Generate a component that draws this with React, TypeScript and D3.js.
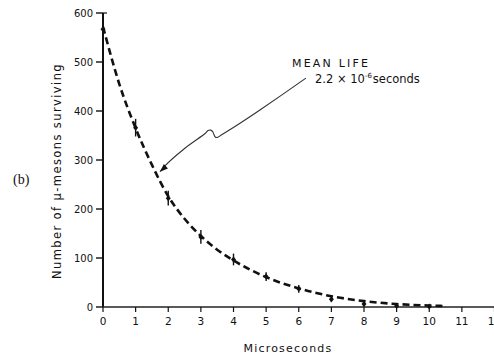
import React from "react";
import * as d3 from "d3";

const times = [0, 1, 2, 3, 4, 5, 6, 7, 8, 9, 10];
const counts = [567, 366, 222, 143, 97, 62, 37, 16, 6, 2, 1];
const errors = [15, 18, 15, 14, 12, 9, 8, 6, 5, 3, 2];
const curveT = [0, 0.5, 1, 1.5, 2, 2.5, 3, 3.5, 4, 5, 6, 7, 8, 9, 10, 10.5];
const curveN = [572, 455, 365, 290, 226, 180, 145, 117, 95, 61, 38, 22, 12, 6, 3, 2];
const xTicks = [0, 1, 2, 3, 4, 5, 6, 7, 8, 9, 10, 11, 12];
const yTicks = [0, 100, 200, 300, 400, 500, 600];
// annotation arrow path in data units (t, N)
const arrowT = [6.22, 4.81, 4.2, 3.65, 3.5, 3.44, 3.4, 3.36, 3.3, 3.22, 3.13, 2.51, 1.84, 1.75];
const arrowN = [467, 402, 375, 352, 346, 347, 352, 358, 361, 360, 354, 324, 284, 276];

const W = 494;
const H = 356;
const FONT = "'DejaVu Sans', 'Liberation Sans', sans-serif";

export default function App() {
  const x = d3.scaleLinear().domain([0, 12]).range([103, 494.5]);
  const y = d3.scaleLinear().domain([0, 600]).range([307, 13]);
  const curvePath = d3
    .line<number>()
    .x((_, i) => x(curveT[i]))
    .y((d) => y(d))
    .curve(d3.curveMonotoneX)(curveN);
  const arrowPts = arrowT.map((t, i) => [x(t), y(arrowN[i])] as [number, number]);
  const arrowPath = d3.line().curve(d3.curveCatmullRom.alpha(0.5))(arrowPts);
  const tip = arrowPts[arrowPts.length - 1];
  const prev = arrowPts[arrowPts.length - 3];
  const ang = Math.atan2(tip[1] - prev[1], tip[0] - prev[0]);
  const hl = 8;
  const hw = 3;
  const head = [
    tip,
    [tip[0] - hl * Math.cos(ang) + hw * Math.sin(ang), tip[1] - hl * Math.sin(ang) - hw * Math.cos(ang)],
    [tip[0] - hl * Math.cos(ang) - hw * Math.sin(ang), tip[1] - hl * Math.sin(ang) + hw * Math.cos(ang)],
  ];

  return (
    <svg
      width={W}
      height={H}
      style={{ position: "absolute", left: 0, top: 0, background: "#fff" }}
    >
      <rect width={W} height={H} fill="#fff" />
      {/* axes */}
      <line x1={x(0)} x2={x(0)} y1={y(0)} y2={y(600)} stroke="#111" strokeWidth={2} />
      <line x1={x(0)} x2={W} y1={y(0)} y2={y(0)} stroke="#222" strokeWidth={1.6} />
      {yTicks.map((t) => (
        <g key={"y" + t}>
          <line x1={x(0) - 7} x2={x(0)} y1={y(t)} y2={y(t)} stroke="#111" strokeWidth={1.4} />
          <text
            x={x(0) - 10}
            y={y(t) + 3.5}
            textAnchor="end"
            fontSize={10}
            fontFamily={FONT}
            fill="#111"
          >
            {t}
          </text>
        </g>
      ))}
      <line x1={x(0)} x2={x(0) + 4} y1={y(600)} y2={y(600)} stroke="#111" strokeWidth={1.2} />
      {xTicks.map((t) => (
        <g key={"x" + t}>
          <line x1={x(t)} x2={x(t)} y1={y(0)} y2={y(0) + 5} stroke="#111" strokeWidth={1.2} />
          <text
            x={x(t)}
            y={325}
            textAnchor="middle"
            fontSize={10.5}
            fontFamily={FONT}
            fill="#111"
          >
            {t}
          </text>
        </g>
      ))}
      {/* fitted curve */}
      <path
        d={curvePath || ""}
        fill="none"
        stroke="#111"
        strokeWidth={2.6}
        strokeDasharray="7 4"
      />
      {/* data points with error bars */}
      {times.map((t, i) => (
        <g key={"p" + t}>
          <line
            x1={x(t)}
            x2={x(t)}
            y1={y(counts[i] - errors[i])}
            y2={y(counts[i] + errors[i])}
            stroke="#111"
            strokeWidth={1.4}
          />
          <path
            d={`M${x(t)},${y(counts[i]) - 3}L${x(t) + 2.5},${y(counts[i])}L${x(t)},${y(counts[i]) + 3}L${x(t) - 2.5},${y(counts[i])}Z`}
            fill="#111"
          />
        </g>
      ))}
      {/* annotation */}
      <path d={arrowPath || ""} fill="none" stroke="#333" strokeWidth={1.1} />
      <polygon points={head.map((p) => p.join(",")).join(" ")} fill="#111" />
      <text x={292} y={67} fontSize={11} fontFamily={FONT} fill="#111" letterSpacing={2.2}>
        MEAN LIFE
      </text>
      <text x={315} y={83} fontSize={11.5} fontFamily={FONT} fill="#111">
        2.2 × 10
        <tspan dy={-5} fontSize={7}>
          -6
        </tspan>
        <tspan dy={5} dx={1}>
          seconds
        </tspan>
      </text>
      {/* axis titles */}
      <text
        transform={`translate(61,171) rotate(-90)`}
        textAnchor="middle"
        fontSize={11.5}
        fontFamily={FONT}
        fill="#111"
        letterSpacing={1.4}
      >
        Number of  μ-mesons  surviving
      </text>
      <text
        x={288}
        y={352}
        textAnchor="middle"
        fontSize={11}
        fontFamily={FONT}
        fill="#111"
        letterSpacing={1.2}
      >
        Microseconds
      </text>
      <text x={13} y={184} fontSize={14} fontFamily="'Liberation Serif', serif" fill="#111">
        (b)
      </text>
    </svg>
  );
}
